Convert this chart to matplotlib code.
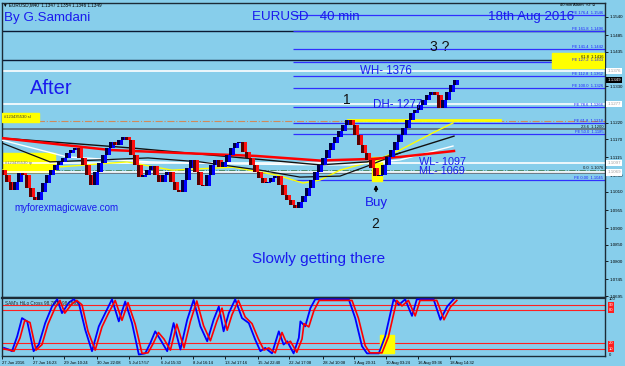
import matplotlib
matplotlib.use('Agg')
import matplotlib.pyplot as plt
from matplotlib.patches import Rectangle

# ---------------- data ----------------
first_open = 1.1076
closes = [1.1061, 1.1040, 1.1016, 1.1040, 1.1067, 1.1061, 1.1022, 1.0995, 1.0985, 1.1010,
          1.1037, 1.1061, 1.1076, 1.1092, 1.1101, 1.1113, 1.1128, 1.1137, 1.1143, 1.1113,
          1.1092, 1.1061, 1.1031, 1.1070, 1.1098, 1.1122, 1.1143, 1.1161, 1.1152, 1.1167,
          1.1176, 1.1167, 1.1122, 1.1092, 1.1055, 1.1061, 1.1076, 1.1088, 1.1061, 1.1040,
          1.1061, 1.1070, 1.1040, 1.1016, 1.1010, 1.1046, 1.1082, 1.1107, 1.1070, 1.1031,
          1.1028, 1.1061, 1.1092, 1.1107, 1.1085, 1.1101, 1.1122, 1.1143, 1.1158, 1.1161,
          1.1131, 1.1113, 1.1092, 1.1070, 1.1052, 1.1037, 1.1040, 1.1052, 1.1058, 1.1031,
          1.1001, 1.0985, 1.0970, 1.0961, 1.0979, 1.0998, 1.1022, 1.1046, 1.1070, 1.1092,
          1.1113, 1.1137, 1.1158, 1.1176, 1.1195, 1.1213, 1.1228, 1.1213, 1.1182, 1.1152,
          1.1128, 1.1107, 1.1082, 1.1058, 1.1061, 1.1092, 1.1116, 1.1137, 1.1161, 1.1182,
          1.1204, 1.1228, 1.1249, 1.1258, 1.1273, 1.1289, 1.1304, 1.1313, 1.1304, 1.1264,
          1.1289, 1.1313, 1.1334, 1.1349]

ma_red_x = [-0.5, 26.5, 44, 63, 79, 84, 92, 99, 112.5]
ma_red_y = [1.1173, 1.1137, 1.1128, 1.1119, 1.1105, 1.1107, 1.1110, 1.1116, 1.1134]
ma_blkA_x = [-0.5, 32, 57, 79, 90.75, 99, 112.5]
ma_blkA_y = [1.1173, 1.1143, 1.1116, 1.1092, 1.1101, 1.1128, 1.1179]
ma_blkB_x = [-0.5, 11.5, 24, 36, 49, 64, 74, 84, 91, 99]
ma_blkB_y = [1.1158, 1.1101, 1.1107, 1.1113, 1.1101, 1.1076, 1.1055, 1.1058, 1.1089, 1.1128]
ma_wht_x = [-0.5, 15.75, 36.5, 57, 79, 86.5, 99, 112.25]
ma_wht_y = [1.1167, 1.1116, 1.1101, 1.1095, 1.1092, 1.1092, 1.1107, 1.1149]
ma_yel_x = [-0.5, 13, 30.75, 42, 57.25, 68.25, 74.75, 79, 84, 93.25, 99, 107.25, 112.25]
ma_yel_y = [1.1076, 1.1085, 1.1101, 1.1076, 1.1085, 1.1061, 1.1037, 1.1046, 1.1076, 1.1107, 1.1137, 1.1189, 1.1219]

# visible price-scale labels (1.1380 and 1.1275 are hidden behind level boxes)
price_ticks = [1.1540, 1.1485, 1.1435, 1.1330, 1.1220, 1.1170, 1.1115,
               1.1060, 1.1010, 1.0955, 1.0900, 1.0850, 1.0800, 1.0745, 1.0695]

fe_levels = [1.1546, 1.1496, 1.1442, 1.1403, 1.1362, 1.1326, 1.1266, 1.1218, 1.1185, 1.1045]
fe_labels = ['FE 176.4  1.1546', 'FE 161.8  1.1496', 'FE 141.4  1.1442', 'FE 127.2  1.1403',
             'FE 112.8  1.1362', 'FE 100.0  1.1326', 'FE 78.6  1.1266', 'FE 61.8  1.1218',
             'FE 50.0  1.1185', 'FE 0.00  1.1045']
fe_start = 72.3

fib_levels = [1.1498, 1.1410, 1.1200]
fib_labels = ['', '61.8  1.1416', '23.6  1.1200']
white_levels = [1.1376, 1.1277, 1.1097, 1.1069]
white_labels = ['1.1376', '1.1277', '1.1097', '1.1069']
current_price = 1.1349
sl_level = 1.1225
zero_level = 1.1076
gray_level = 1.1066
yellow_trend_x = [86, 124]
yellow_trend_y = 1.1228

# indicator (SAM's HiLo Cross)
ind_blue_x = [0, 1.2, 2, 3.3, 4.5, 5.8, 7.4, 8.7, 10.3, 12, 13.3, 14.5, 16.2, 17.4, 18.7, 20.3, 22,
              23.7, 25.3, 27, 28.7, 30.3, 32, 33.7, 35.3, 36.6, 37.8, 39.1, 40.8, 42.4, 44.1, 45.8,
              47.4, 49.1, 50.8, 52.4, 53.7, 54.9, 56.2, 57.8, 59.5, 61.2, 62.8, 64.1, 65.3, 67, 68.7,
              69.9, 70.8, 72.4, 73.7, 74.1, 75.3, 76.6, 77.8, 86.2, 87.8, 89.5, 90.75, 93.7, 95.3,
              97.4, 98.7, 100.3, 102, 103.2, 107.4, 109.1, 110.8, 112.4]
ind_blue_y = [12, 9, 6, 33, 66, 60, 6, 18, 57, 87, 100, 75, 94, 100, 93, 45, 6,
              51, 75, 100, 60, 96, 57, 0, 2, 21, 42, 27, 6, 57, 9, 63,
              99, 51, 24, 63, 87, 42, 75, 100, 66, 57, 27, 6, 12, 2, 42,
              18, 24, 2, 30, 60, 51, 84, 100, 100, 66, 15, 2, 2, 33,
              100, 90, 100, 70, 100, 100, 63, 87, 100]
ind_red_x = [0, 1.5, 2.5, 4, 5.2, 6.5, 8, 9.5, 11, 12.8, 14, 15.2, 17, 18.2, 19.5, 21, 22.8,
             24.5, 26, 27.8, 29.5, 31, 32.8, 34.5, 36, 37.3, 38.6, 40, 41.6, 43.2, 45, 46.6,
             48.2, 49.9, 51.6, 53.2, 54.5, 55.8, 57, 58.6, 60.3, 62, 63.6, 65, 66.2, 67.8, 69.5,
             70.7, 71.6, 73.2, 74.5, 75, 76.2, 77.5, 78.8, 87, 88.6, 90.3, 91.5, 94.5, 96.1,
             98.2, 99.5, 101.1, 102.8, 104, 108.2, 110, 111.6, 113.2]
ind_red_y = [10, 8, 6, 30, 62, 58, 8, 18, 55, 85, 98, 75, 92, 98, 90, 42, 8,
             50, 73, 98, 62, 94, 55, 2, 3, 20, 40, 28, 8, 55, 12, 60,
             97, 52, 25, 60, 84, 44, 72, 98, 68, 56, 28, 8, 12, 3, 40,
             20, 24, 4, 28, 56, 50, 80, 98, 98, 66, 16, 3, 3, 32,
             98, 88, 98, 70, 98, 98, 63, 86, 98]
ind_levels = [90, 80, 20, 10]

date_pos = [-0.5, 7.25, 15, 23.25, 31.25, 39.25, 47.25, 55.25, 63.5, 71.25, 79.75, 87.5, 95.5, 103.5, 111.5]
date_labels = ['27 Jun 2016', '27 Jun 16:23', '29 Jun 10:24', '30 Jun 22:08', '5 Jul 17:57',
               '6 Jul 15:30', '8 Jul 16:14', '13 Jul 17:16', '15 Jul 22:40', '22 Jul 17:08',
               '28 Jul 10:08', '3 Aug 20:31', '10 Aug 03:24', '16 Aug 09:36', '18 Aug 14:32']

# ---------------- layout ----------------
W, H = 625, 366
BG = '#87ceeb'
BLUE_TXT = '#1a1aee'
plt.rcParams['font.family'] = ['Liberation Sans', 'DejaVu Sans']

fig = plt.figure(figsize=(W / 100, H / 100), dpi=100)
fig.patch.set_facecolor(BG)


def rect(l, t, r, b):
    return [l / W, 1 - b / H, (r - l) / W, (b - t) / H]


def ftext(x, y, s, **kw):
    fig.text(x / W, 1 - y / H, s, **kw)


ax = fig.add_axes(rect(2, 3, 605, 297))
axi = fig.add_axes(rect(2, 298, 605, 356), sharex=ax)
for a in (ax, axi):
    a.set_facecolor(BG)
    for s in a.spines.values():
        s.set_color('#1c2b36')
        s.set_linewidth(1.0)
axi.spines['top'].set_linewidth(1.6)

XMAX = 150.25
ax.set_xlim(-0.5, XMAX)
ax.set_ylim(1.0692, 1.1582)

# horizontal lines (full width)
for lv in fib_levels[:2]:
    ax.axhline(lv, color='#0b1a33', lw=1.0, zorder=1)
ax.axhline(fib_levels[2], color='#5a6a78', lw=1.2, zorder=1)
ax.axhline(gray_level, color='#6a7a88', lw=1.4, zorder=1)
ax.axhline(sl_level, color='#d08a5a', lw=0.8, ls='-.', zorder=1)
ax.axhline(zero_level, color='#4c8a6a', lw=0.7, ls='-.', zorder=1)
for lv in white_levels:
    ax.axhline(lv, color='white', lw=1.2, zorder=2)

# Fibonacci expansion lines
ax.hlines(fe_levels, fe_start, XMAX, color='#3030ff', lw=0.9, zorder=2)
trans_y = ax.get_yaxis_transform()
for lv, lb in zip(fe_levels, fe_labels):
    ax.text(0.997, lv, lb, transform=trans_y, ha='right', va='bottom', fontsize=3.0,
            color='#2020ff', zorder=6)
for lv, lb in zip(fib_levels, fib_labels):
    if lb:
        ax.text(0.997, lv + 0.0002, lb, transform=trans_y, ha='right', va='bottom',
                fontsize=3.0, color='#101010', zorder=6)
ax.text(0.997, zero_level, '0.0  1.1076', transform=trans_y, ha='right', va='bottom',
        fontsize=3.0, color='#101010', zorder=6)

# yellow boxes
ax.add_patch(Rectangle((137, 1.1385), XMAX - 137, 0.0046, color='#ffff00', zorder=3))
ax.add_patch(Rectangle((-0.5, 1.1070), 13.25, 0.0058, color='#ffff00', zorder=1))
ax.add_patch(Rectangle((-0.5, 1.1222), 9.25, 0.0027, color='#ffff00', zorder=4))
ax.text(0, 1.12355, '#123435530 sl', fontsize=3, color='#333333', va='center', zorder=5)
ax.text(0.3, 1.1099, '#123435530 tp', fontsize=3, color='#777777', va='center', zorder=5)
ax.add_patch(Rectangle((92, 1.1043), 2.5, 0.0073, color='#ffff00', zorder=3))

# yellow horizontal trend segment
ax.plot(yellow_trend_x, [yellow_trend_y, yellow_trend_y], color='#ffff00', lw=2.0, zorder=3)

# moving averages
ax.plot(ma_yel_x, ma_yel_y, color='#ffff00', lw=1.0, zorder=4)
ax.plot(ma_wht_x, ma_wht_y, color='white', lw=1.0, zorder=4)
ax.plot(ma_blkB_x, ma_blkB_y, color='#111111', lw=0.9, zorder=4)
ax.plot(ma_blkA_x, ma_blkA_y, color='#111111', lw=1.0, zorder=4)
ax.plot(ma_red_x, ma_red_y, color='#ff0000', lw=1.8, zorder=4)

# price bars (dark shadow + bright body, renko-like)
opens = [first_open] + closes[:-1]
xs = list(range(len(closes)))
for x, o, c in zip(xs, opens, closes):
    up = c >= o
    dark = '#00003c' if up else '#5a0000'
    bright = '#0000ff' if up else '#ff1010'
    ax.bar(x - 0.3, c - o, bottom=o, width=0.75, color=dark, zorder=5, linewidth=0)
    ax.bar(x + 0.25, c - o, bottom=o, width=0.75, color=bright, zorder=5, linewidth=0)

# price axis
ax.yaxis.tick_right()
ax.set_yticks(price_ticks)
ax.set_yticklabels(['%.4f' % t for t in price_ticks])
ax.tick_params(axis='y', labelsize=3.2, length=2, width=0.6, pad=1.5, colors='black')
ax.tick_params(axis='x', bottom=False, labelbottom=False)

# right boxed labels
for lv, lb in zip(white_levels, white_labels):
    ax.text(1.004, lv, lb, transform=trans_y, ha='left', va='center', fontsize=3.2,
            color='#a0a0a0', bbox=dict(boxstyle='square,pad=0.25', fc='white', ec='none'),
            clip_on=False, zorder=7)
ax.text(1.004, current_price, '%.4f' % current_price, transform=trans_y, ha='left',
        va='center', fontsize=3.2, color='white',
        bbox=dict(boxstyle='square,pad=0.25', fc='black', ec='none'), clip_on=False, zorder=7)

# ---------------- indicator ----------------
axi.set_ylim(-2.7, 102.4)
axi.hlines(ind_levels, -0.5, XMAX, color='#ff2020', lw=0.8, zorder=1)
axi.add_patch(Rectangle((94, 2), 3.5, 34, color='#ffff00', zorder=1))
axi.plot(ind_blue_x, ind_blue_y, color='#0000ff', lw=1.3, zorder=3)
axi.plot(ind_red_x, ind_red_y, color='#ff0000', lw=1.2, zorder=4)
axi.set_yticks([])
axi.set_xticks(date_pos)
axi.set_xticklabels(date_labels, ha='left')
axi.tick_params(axis='x', labelsize=3.0, length=2, width=0.6, pad=1.5, colors='black')
axi.text(0.005, 0.9, "SAM's HiLo Cross 98.7004 98.1592", transform=axi.transAxes,
         fontsize=3.3, color='#202020', va='center')
ty = axi.get_yaxis_transform()
axi.text(1.006, 100, '100', transform=ty, fontsize=3, va='center', clip_on=False)
axi.text(1.006, 0, '0', transform=ty, fontsize=3, va='center', clip_on=False)
for lv in ind_levels:
    axi.text(1.006, lv, str(lv), transform=ty, fontsize=3, va='center', color='white',
             bbox=dict(boxstyle='square,pad=0.2', fc='#ff2020', ec='none'), clip_on=False)

# ---------------- text annotations ----------------
ftext(3, 5, '\u25bc EURUSD,M40  1.1347 1.1354 1.1346 1.1349', fontsize=3.3, color='black',
      va='center', family=['Liberation Sans', 'DejaVu Sans'])
ftext(560, 4.5, '40 min Alarm  \u00d72 \u263a', fontsize=3.0, color='black', va='center',
      family=['Liberation Sans', 'DejaVu Sans'])
ftext(4, 18, 'By G.Samdani', fontsize=9.6, color=BLUE_TXT, va='center')
ftext(252, 17, 'EURUSD   40 min', fontsize=9.6, color=BLUE_TXT, va='center')
ftext(488, 17, '18th Aug 2016', fontsize=9.6, color=BLUE_TXT, va='center')
ftext(30, 88, 'After', fontsize=14.5, color=BLUE_TXT, va='center')
ftext(14, 208, 'myforexmagicwave.com', fontsize=7, color=BLUE_TXT, va='center')
ftext(252, 259, 'Slowly getting there', fontsize=11, color=BLUE_TXT, va='center')
ftext(360, 71, 'WH- 1376', fontsize=8.3, color=BLUE_TXT, va='center')
ftext(373, 105, 'DH- 1277', fontsize=8.3, color=BLUE_TXT, va='center')
ftext(419, 162, 'WL- 1097', fontsize=7.8, color=BLUE_TXT, va='center')
ftext(419, 171, 'ML- 1069', fontsize=7.8, color=BLUE_TXT, va='center')
ftext(376, 203, 'Buy', fontsize=9.6, color=BLUE_TXT, va='center', ha='center')
ftext(347, 100, '1', fontsize=10, color='#111111', va='center', ha='center')
ftext(375, 224, '2', fontsize=10, color='#111111', va='center', ha='center')
ftext(430, 47, '3 ?', fontsize=10, color='#111111', va='center')
fig.add_artist(matplotlib.patches.FancyArrowPatch((376 / W, 1 - 194 / H), (376 / W, 1 - 182 / H),
                                                  transform=fig.transFigure, arrowstyle='-|>',
                                                  mutation_scale=5, lw=1.2, color='black'))

fig.savefig('out.png', dpi=100, facecolor=BG)
